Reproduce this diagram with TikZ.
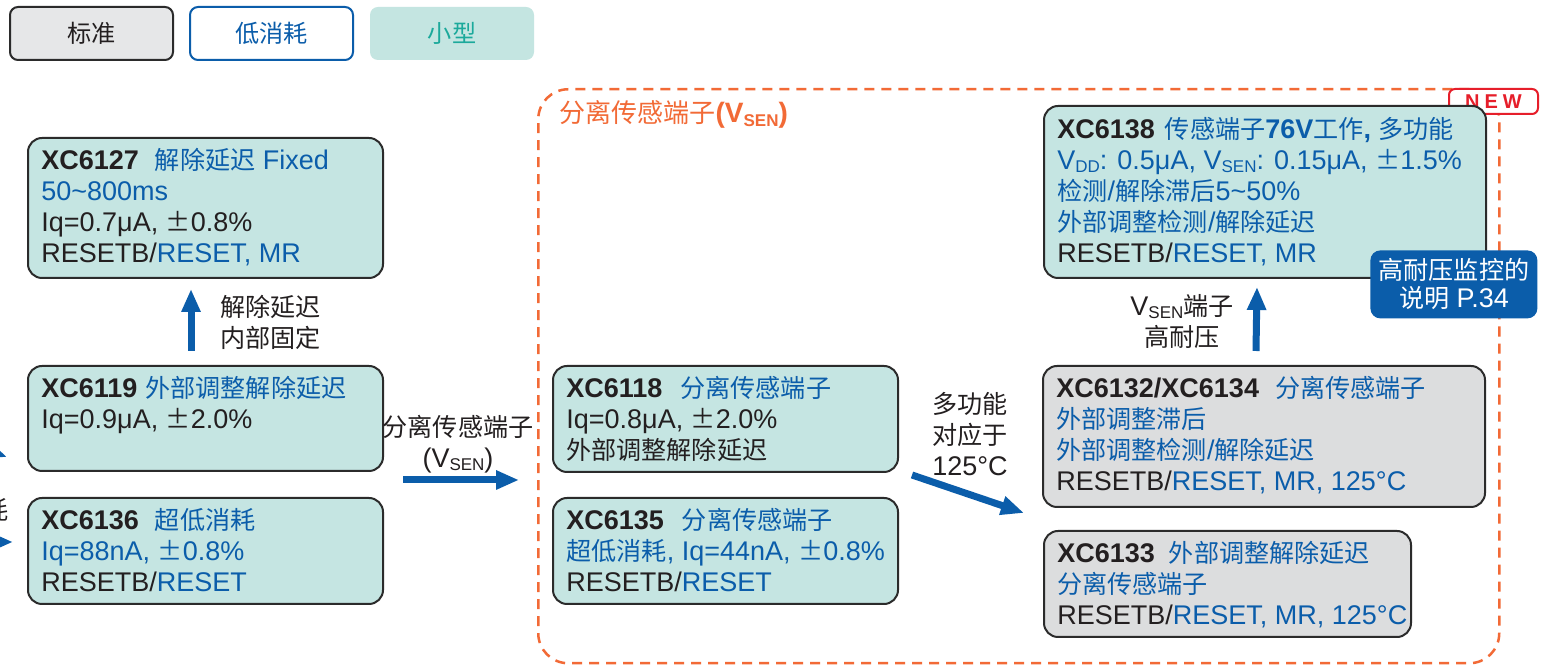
\documentclass[tikz,border=0pt]{standalone}
\usepackage{fontspec}
\setmainfont{Liberation Sans}
\newfontfamily\cjk{Noto Sans CJK SC}[Scale=0.93]
\usetikzlibrary{arrows.meta,calc}

\definecolor{tealfill}{HTML}{C5E5E2}
\definecolor{grayfill}{HTML}{DCDDDE}
\definecolor{boxline}{HTML}{2B2B2B}
\definecolor{txtblue}{HTML}{0B5DAA}
\definecolor{txtdark}{HTML}{231F20}
\definecolor{arrblue}{HTML}{0B5DAA}
\definecolor{sepor}{HTML}{F26A36}
\definecolor{newred}{HTML}{E61E2A}
\definecolor{keyteal}{HTML}{1BA99B}
\definecolor{keyfill}{HTML}{C4E5E1}
\definecolor{keystd}{HTML}{E6E7E8}

\newcommand{\zh}[1]{{\cjk #1}}
\newcommand{\bl}[1]{{\color{txtblue}#1}}
\newcommand{\pmz}{{\cjk ±}}
\newcommand{\vsub}[1]{\raisebox{-0.25ex}{\fontsize{8.5}{9}\selectfont #1}}
\newcommand{\boxfont}{\fontsize{13.5}{15.5}\selectfont}
\newcommand{\fl}{\rule{0pt}{12pt}}

\begin{document}
\begin{tikzpicture}[x=0.5pt, y=-0.5pt,
    partbox/.style={draw=boxline, line width=1pt, fill=tealfill, rounded corners=7pt, anchor=north west, inner sep=0pt},
    partgray/.style={partbox, fill=grayfill},
    parttext/.style={anchor=north west, inner sep=0pt, align=left, font=\boxfont, text=txtdark},
    arrowlbl/.style={inner sep=0pt, font=\boxfont, text=txtdark},
    keybox/.style={anchor=north west, minimum height=26.5pt, rounded corners=4pt, line width=1pt, inner sep=0pt, font=\fontsize{13}{15}\selectfont},
    uparrow/.style={draw=arrblue, line width=3.5pt, -{Triangle[length=11.5pt,width=9pt]}}
]
    \useasboundingbox (0,0) rectangle (1544,667);
    \fill[white] (0,0) rectangle (1544,667);

    % Legend
    \node[keybox, draw=boxline, fill=keystd, minimum width=81.5pt, text=txtdark] (stdkey) at (9,6) {\zh{标准}};
    \node[keybox, draw=txtblue, fill=white, minimum width=81.5pt, text=txtblue] (lowkey) at (189,6) {\zh{低消耗}};
    \node[keybox, fill=keyfill, minimum width=82pt, text=keyteal] (smallkey) at (369,6) {\zh{小型}};

    % Cut-off items at the left edge
    \node[arrowlbl, anchor=base east] (cutlbl) at (9,520) {\zh{耗}};
    \coordinate (cutA) at (-90,423);
    \coordinate (cutB) at (7,457);
    \coordinate (cutC) at (-90,542);
    \coordinate (cutD) at (13,542);
    \draw[uparrow] (cutA) -- (cutB);
    \draw[uparrow] (cutC) -- (cutD);

    % Left column
    \node[partbox, minimum width=177.5pt, minimum height=70pt] (x6127) at (27,137) {};
    \node[parttext] (x6127t) at ($(x6127.north west)+(14,8)$) {\fl\textbf{XC6127}\hspace{8pt}\bl{\zh{解除延迟} Fixed}\\
        \bl{50\textasciitilde800ms}\\
        Iq=0.7μA, \pmz0.8\%\\
        RESETB/\bl{RESET, MR}};

    \node[partbox, minimum width=177.5pt, minimum height=52.5pt] (x6119) at (27,365) {};
    \node[parttext] (x6119t) at ($(x6119.north west)+(14,8)$) {\fl\textbf{XC6119}\hspace{4pt}\bl{\zh{外部调整解除延迟}}\\
        Iq=0.9μA, \pmz2.0\%};

    \node[partbox, minimum width=177.5pt, minimum height=53pt] (x6136) at (27,497) {};
    \node[parttext] (x6136t) at ($(x6136.north west)+(14,8)$) {\fl\textbf{XC6136}\hspace{8pt}\bl{\zh{超低消耗}}\\
        \bl{Iq=88nA, \pmz0.8\%}\\
        RESETB/\bl{RESET}};

    % Fixed delay arrow
    \draw[uparrow] ([xshift=-7.25pt,yshift=7pt]x6119.north) -- ([xshift=-7.25pt,yshift=-5pt]x6127.south);
    \node[arrowlbl, anchor=north west, align=left] (fixlbl) at (220,292) {\fl\zh{解除延迟}\\\zh{内部固定}};

    % Arrow into the sense-pin group
    \coordinate (sepA) at (403,480);
    \coordinate (sepB) at (519,480);
    \draw[uparrow] (sepA) -- (sepB);
    \node[arrowlbl, anchor=north, align=center] (seplbl) at (458,412) {\fl\zh{分离传感端子}\\(V\vsub{SEN})};

    % Sense-pin group frame
    \node[draw=sepor, line width=1.25pt, dash pattern=on 5pt off 3.5pt, rounded corners=15pt, anchor=north west, minimum width=480.5pt, minimum height=287pt, inner sep=0pt] (vsen) at (537,88) {};
    \node[anchor=base west, inner sep=0pt, text=sepor, font=\fontsize{14}{16}\selectfont] (vsenlbl) at (559,123) {\zh{分离传感端子}\textbf{(V\vsub{SEN})}};
    \node[anchor=north west, draw=newred, fill=white, line width=1pt, rounded corners=3pt, minimum width=44.5pt, minimum height=12.5pt, inner sep=0pt, text=newred, font=\bfseries\fontsize{10}{10}\selectfont] (newtag) at (1448,88) {N\hspace{2.5pt}E\hspace{2.5pt}W};

    % Middle column
    \node[partbox, minimum width=172.5pt, minimum height=53pt] (x6118) at (552,365) {};
    \node[parttext] (x6118t) at ($(x6118.north west)+(14,8)$) {\fl\textbf{XC6118}\hspace{9pt}\bl{\zh{分离传感端子}}\\
        Iq=0.8μA, \pmz2.0\%\\
        \zh{外部调整解除延迟}};

    \node[partbox, minimum width=172.5pt, minimum height=53pt] (x6135) at (552,497) {};
    \node[parttext] (x6135t) at ($(x6135.north west)+(14,8)$) {\fl\textbf{XC6135}\hspace{9pt}\bl{\zh{分离传感端子}}\\
        \bl{\zh{超低消耗}, Iq=44nA, \pmz0.8\%}\\
        RESETB/\bl{RESET}};

    % Multi-function arrow
    \coordinate (mfA) at (912,475);
    \coordinate (mfB) at (1024,513);
    \draw[uparrow] (mfA) -- (mfB);
    \node[arrowlbl, anchor=north, align=center] (mflbl) at (970,389) {\fl\zh{多功能}\\\zh{对应于}\\125°C};

    % Right column
    \node[partbox, minimum width=221pt, minimum height=86pt] (x6138) at (1043,105) {};
    \node[parttext] (x6138t) at ($(x6138.north west)+(14,9)$) {\fl\textbf{XC6138}\hspace{5pt}\bl{\zh{传感端子}\textbf{76V}\zh{工作}\textbf{,} \zh{多功能}}\\
        \bl{V\vsub{DD}: 0.5μA, V\vsub{SEN}: 0.15μA, \pmz1.5\%}\\
        \bl{\zh{检测}/\zh{解除滞后}5\textasciitilde50\%}\\
        \bl{\zh{外部调整检测}/\zh{解除延迟}}\\
        RESETB/\bl{RESET, MR}};

    \node[anchor=north west, fill=arrblue, rounded corners=5pt, minimum width=83.5pt, minimum height=34pt, inner sep=0pt, text=white, align=center, font=\fontsize{13.5}{14}\selectfont] (p34) at (1370,250) {\zh{高耐压监控的}\\\zh{说明} P.34};

    \node[partgray, minimum width=221pt, minimum height=70.5pt] (x6132) at (1042,365) {};
    \node[parttext] (x6132t) at ($(x6132.north west)+(14,8)$) {\fl\textbf{XC6132/XC6134}\hspace{8pt}\bl{\zh{分离传感端子}}\\
        \bl{\zh{外部调整滞后}}\\
        \bl{\zh{外部调整检测}/\zh{解除延迟}}\\
        RESETB/\bl{RESET, MR, 125°C}};

    \node[partgray, minimum width=183.5pt, minimum height=53pt] (x6133) at (1043,530) {};
    \node[parttext] (x6133t) at ($(x6133.north west)+(14,8)$) {\fl\textbf{XC6133}\hspace{7pt}\bl{\zh{外部调整解除延迟}}\\
        \bl{\zh{分离传感端子}}\\
        RESETB/\bl{RESET, MR, 125°C}};

    % High-voltage arrow
    \draw[uparrow] ([xshift=-4pt,yshift=7pt]x6132.north) -- ([xshift=-4pt,yshift=-4pt]x6138.south);
    \node[arrowlbl, anchor=north, align=center] (hvlbl) at (1182,291) {\fl V\vsub{SEN}\zh{端子}\\\zh{高耐压}};

\end{tikzpicture}
\end{document}
